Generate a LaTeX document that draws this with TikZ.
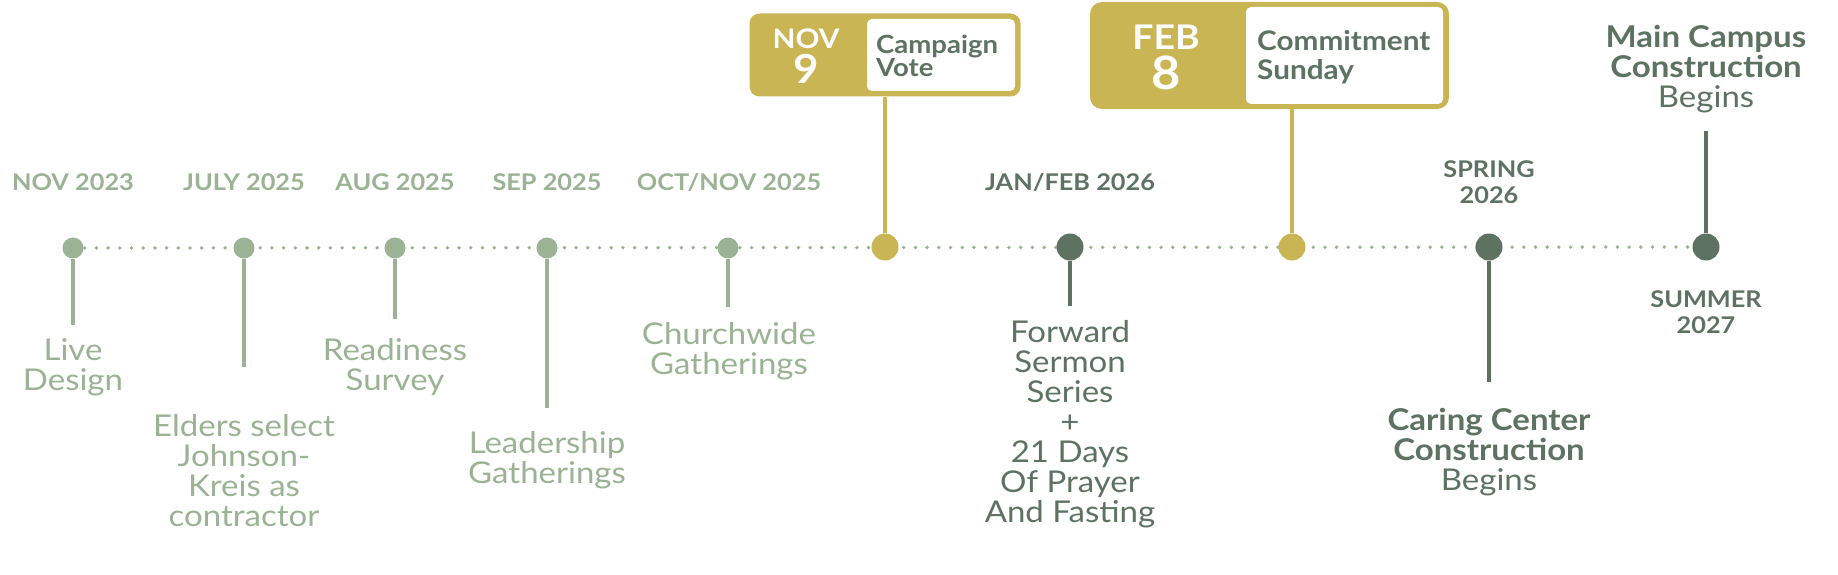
\documentclass[tikz,border=0pt]{standalone}
\usepackage{fontspec}
\setmainfont{Lato}[FakeStretch=1.1]
\usetikzlibrary{backgrounds}
\definecolor{lg}{RGB}{155,178,148}
\definecolor{dg}{RGB}{94,114,98}
\definecolor{gd}{RGB}{201,181,84}
\begin{document}
\begin{tikzpicture}[x=1pt,y=-1pt,
  ldot/.style={circle,fill=lg,minimum size=21pt,inner sep=0},
  ddot/.style={circle,fill=dg,minimum size=27pt,inner sep=0},
  gdot/.style={circle,fill=gd,minimum size=27pt,inner sep=0},
  lstem/.style={draw=lg,line width=4pt},
  dstem/.style={draw=dg,line width=4pt},
  gstem/.style={draw=gd,line width=3.5pt},
  dotline/.style={draw=lg,line width=3.8pt,line cap=round,dash pattern=on 0pt off 11.7pt},
  datelbl/.style={font=\bfseries\fontsize{23}{26}\selectfont,inner sep=0,anchor=base,align=center},
  bodytxt/.style={font=\fontsize{30}{30}\selectfont,inner sep=0,anchor=base,align=center},
  headtxt/.style={font=\fontsize{30}{30}\selectfont,inner sep=0,anchor=base,align=center},
  goldbox/.style={fill=gd,rounded corners=10pt,inner sep=0},
  whitebox/.style={fill=white,rounded corners=5pt,inner sep=0},
]
\useasboundingbox (0,0) rectangle (1838,575);

% dots
\node[ldot] (d1) at (73,248) {};
\node[ldot] (d2) at (244,248) {};
\node[ldot] (d3) at (395,248) {};
\node[ldot] (d4) at (547,248) {};
\node[ldot] (d5) at (728,248) {};
\node[gdot] (d6) at (885,247) {};
\node[ddot] (d7) at (1070,247) {};
\node[gdot] (d8) at (1292,247) {};
\node[ddot] (d9) at (1489,247) {};
\node[ddot] (d10) at (1706,247) {};

\begin{scope}[on background layer]
\draw[dotline] (d1.center) -- (d10.center);
\end{scope}

% stem ends
\coordinate (s1) at (73,325);
\coordinate (s2) at (244,367);
\coordinate (s3) at (395,319);
\coordinate (s4) at (547,408);
\coordinate (s5) at (728,307);
\coordinate (s7) at (1070,306);
\coordinate (s9) at (1489,382);
\coordinate (s10) at (1706,131);

\draw[lstem] (d1) -- (s1);
\draw[lstem] (d2) -- (s2);
\draw[lstem] (d3) -- (s3);
\draw[lstem] (d4) -- (s4);
\draw[lstem] (d5) -- (s5);
\draw[dstem] (d7) -- (s7);
\draw[dstem] (d9) -- (s9);
\draw[dstem] (d10) -- (s10);

% date labels (base = last line baseline)
\node[datelbl,text=lg] (t1) at (73,190) {NOV 2023};
\node[datelbl,text=lg] (t2) at (244,190) {JULY 2025};
\node[datelbl,text=lg] (t3) at (395,190) {AUG 2025};
\node[datelbl,text=lg] (t4) at (547,190) {SEP 2025};
\node[datelbl,text=lg] (t5) at (729,190) {OCT/NOV 2025};
\node[datelbl,text=dg] (t7) at (1070,190) {JAN/FEB 2026};
\node[datelbl,text=dg] (t9) at (1489,203) {SPRING\\2026};
\node[datelbl,text=dg] (t10) at (1706,333) {SUMMER\\2027};

% descriptions (base = last line baseline)
\node[bodytxt,text=lg] (b1) at (73,390) {Live\\Design};
\node[bodytxt,text=lg] (b2) at (244,526) {Elders select\\Johnson-\\Kreis as\\contractor};
\node[bodytxt,text=lg] (b3) at (395,390) {Readiness\\Survey};
\node[bodytxt,text=lg] (b4) at (547,483) {Leadership\\Gatherings};
\node[bodytxt,text=lg] (b5) at (729,374) {Churchwide\\Gatherings};
\node[bodytxt,text=dg] (b7) at (1070,522) {Forward\\Sermon\\Series\\+\\21 Days\\Of Prayer\\And Fasting};
\node[headtxt,text=dg] (b9) at (1489,490) {\textbf{Caring Center}\\\textbf{Construction}\\Begins};
\node[headtxt,text=dg] (b10) at (1706,108) {\textbf{Main Campus}\\\textbf{Construction}\\Begins};

% NOV 9 box
\node[goldbox,minimum width=271pt,minimum height=83pt] (box1) at (885,55) {};
\node[whitebox,minimum width=148pt,minimum height=72pt] (w1) at (941,55) {};
\node[font=\bfseries\fontsize{27}{27}\selectfont,text=white,inner sep=0,anchor=base] (m1) at (806,49) {NOV};
\node[font=\bfseries\fontsize{40}{40}\selectfont,text=white,inner sep=0,anchor=base] (n1) at (806,84) {9};
\node[font=\bfseries\fontsize{25}{23}\selectfont,text=dg,inner sep=0,anchor=base west,align=left] (c1) at (876,77) {Campaign\\Vote};
\draw[gstem] (d6) -- (d6 |- box1.south);

% FEB 8 box
\node[goldbox,minimum width=359pt,minimum height=107pt,rounded corners=12pt] (box2) at (1269.5,55.5) {};
\node[whitebox,minimum width=197pt,minimum height=97pt] (w2) at (1344.5,55.5) {};
\node[font=\bfseries\fontsize{34}{34}\selectfont,text=white,inner sep=0,anchor=base] (m2) at (1166,50) {FEB};
\node[font=\bfseries\fontsize{46}{46}\selectfont,text=white,inner sep=0,anchor=base] (n2) at (1166,90) {8};
\node[font=\bfseries\fontsize{27}{29}\selectfont,text=dg,inner sep=0,anchor=base west,align=left] (c2) at (1257,80) {Commitment\\Sunday};
\draw[gstem] (d8) -- (d8 |- box2.south);
\end{tikzpicture}
\end{document}
